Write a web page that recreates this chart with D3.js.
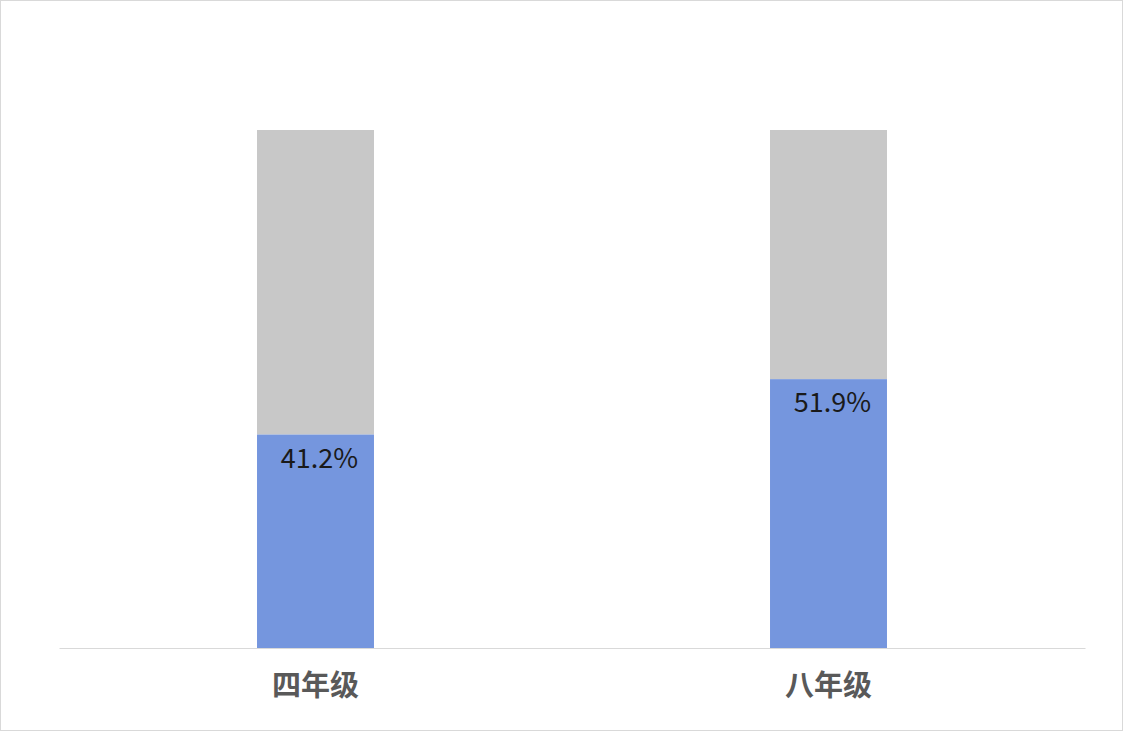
<!DOCTYPE html>
<html>
<head>
<meta charset="utf-8">
<script src="https://cdn.jsdelivr.net/npm/d3@7"></script>
<style>
  body { margin: 0; background: #fff; }
  svg { display: block; }
</style>
</head>
<body>
<div id="chart"></div>
<script>
var categories = ["四年级", "八年级"];
var seriesValues = [41.2, 51.9];
var restValues = [58.8, 48.1];

var width = 1125, height = 733;
var margin = { top: 130, right: 40, bottom: 85, left: 59 };
var plotW = 1085 - margin.left;
var plotH = 648 - margin.top;

var svg = d3.select('#chart').append('svg')
    .attr('width', width)
    .attr('height', height);

// chart frame
svg.append('rect')
    .attr('x', 0.5).attr('y', 0.5)
    .attr('width', 1122).attr('height', 730)
    .attr('fill', '#fff')
    .attr('stroke', '#d9d9d9');

var chart = svg.append('g')
    .attr('transform', 'translate(' + margin.left + ',' + margin.top + ')');

var xScale = d3.scaleBand()
    .range([0, plotW])
    .domain(categories)
    .paddingInner(0.772)
    .paddingOuter(0.386);

var yScale = d3.scaleLinear()
    .range([plotH, 0])
    .domain([0, 100]);

var data = categories.map(function (c, i) {
  return { nama: c, nilai: seriesValues[i], sisa: restValues[i] };
});

var groups = chart.selectAll('g.bar').data(data).enter().append('g').attr('class', 'bar');

groups.append('rect')
    .attr('x', function (d) { return xScale(d.nama); })
    .attr('width', xScale.bandwidth())
    .attr('y', function (d) { return yScale(d.nilai + d.sisa); })
    .attr('height', function (d) { return yScale(d.nilai) - yScale(d.nilai + d.sisa); })
    .attr('fill', '#c8c8c8');

groups.append('rect')
    .attr('x', function (d) { return xScale(d.nama); })
    .attr('width', xScale.bandwidth())
    .attr('y', function (d) { return yScale(d.nilai); })
    .attr('height', function (d) { return plotH - yScale(d.nilai); })
    .attr('fill', '#7596de');

groups.append('text')
    .attr('x', function (d) { return xScale(d.nama) + xScale.bandwidth() / 2 + 4; })
    .attr('y', function (d) { return yScale(d.nilai) + 33; })
    .attr('text-anchor', 'middle')
    .attr('font-family', '"Noto Sans CJK SC", "Noto Sans", sans-serif')
    .attr('font-size', 27)
    .attr('fill', '#1a1a1a')
    .text(function (d) { return d.nilai.toFixed(1) + '%'; });

var xAxis = chart.append('g')
    .attr('transform', 'translate(0,' + plotH + ')')
    .call(d3.axisBottom(xScale).tickSize(0).tickPadding(27));

xAxis.select('.domain').attr('stroke', '#d9d9d9');
xAxis.selectAll('text')
    .attr('font-family', '"Noto Sans CJK SC", sans-serif')
    .attr('font-size', 29)
    .attr('font-weight', 'bold')
    .attr('fill', '#595959');
</script>
</body>
</html>
